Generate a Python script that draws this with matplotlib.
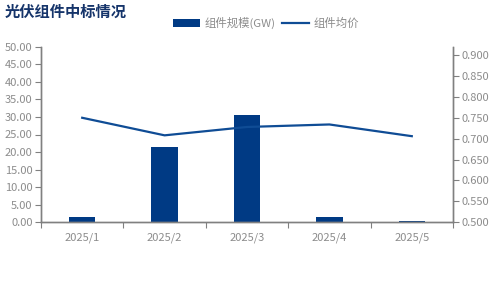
import matplotlib
matplotlib.use("Agg")
import matplotlib.pyplot as plt
from matplotlib.ticker import FormatStrFormatter, FixedLocator
import numpy as np

plt.rcParams['font.family'] = ['Noto Sans CJK SC', 'DejaVu Sans']

categories = ["2025/1", "2025/2", "2025/3", "2025/4", "2025/5"]
scale_gw = [1.5, 21.4, 30.6, 1.4, 0.45]
avg_price = [0.750, 0.708, 0.728, 0.734, 0.706]

bar_color = "#003A84"
line_color = "#0F4C95"
gray = "#808080"
label_gray = "#8C8C8C"

fig = plt.figure(figsize=(4.92, 2.91), dpi=100)
ax = fig.add_axes([41/492, 1-222.3/291, (453-41)/492, (222.3-46.7)/291])
ax2 = ax.twinx()

x = np.arange(len(categories))
bars = ax.bar(x, scale_gw, width=0.32, color=bar_color, label="组件规模(GW)", zorder=2)
line, = ax2.plot(x, avg_price, color=line_color, lw=1.6, label="组件均价", zorder=3)

ax.set_xlim(-0.5, len(categories)-0.5)
ax.set_ylim(0, 50)
ax.set_yticks(np.arange(0, 50.01, 5))
ax.yaxis.set_major_formatter(FormatStrFormatter("%.2f"))
ax2.set_ylim(0.5, 0.92)
ax2.yaxis.set_major_locator(FixedLocator(np.arange(0.5, 0.9001, 0.05)))
ax2.yaxis.set_major_formatter(FormatStrFormatter("%.3f"))

ax.set_xticks(np.arange(-0.5, len(categories), 1.0))
ax.set_xticklabels([])
ax.set_xticks(x, minor=True)
ax.set_xticklabels(categories, minor=True)
ax.tick_params(axis='x', which='major', length=4, color=gray, direction='out')
ax.tick_params(axis='x', which='minor', length=0, pad=7, labelsize=8, labelcolor=label_gray)
ax.tick_params(axis='y', length=4, color=gray, labelsize=8, labelcolor=label_gray, pad=2)
ax2.tick_params(axis='y', length=4, color=gray, labelsize=8, labelcolor=label_gray, pad=2)

for a in (ax, ax2):
    a.spines['top'].set_visible(False)
    for s in ('left', 'right', 'bottom'):
        a.spines[s].set_color(gray)
        a.spines[s].set_linewidth(1.0)

fig.text(5/492, 1-12/291, "光伏组件中标情况", fontsize=11, fontweight='bold',
         color="#15346A", va='center', ha='left')

leg = fig.legend(handles=[bars, line], labels=["组件规模(GW)", "组件均价"],
                 loc='center', bbox_to_anchor=(266/492, 1-23/291), ncol=2,
                 frameon=False, fontsize=8.2, handlelength=2.4, handleheight=0.6,
                 columnspacing=0.5, handletextpad=0.4)
for t in leg.get_texts():
    t.set_color(label_gray)

fig.savefig("out.png", dpi=100)
